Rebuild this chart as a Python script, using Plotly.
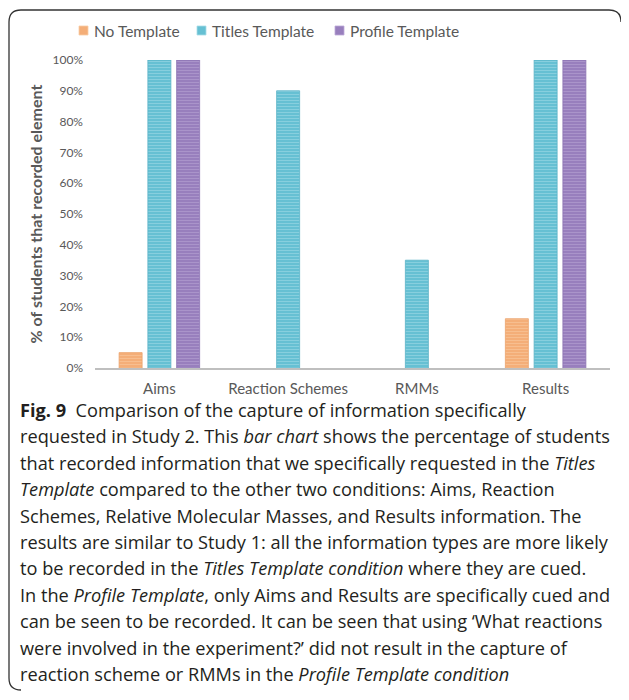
import plotly.graph_objects as go

categories = ["Aims", "Reaction Schemes", "RMMs", "Results"]
no_template = [0.05, None, None, 0.16]
titles_template = [1.00, 0.90, 0.35, 1.00]
profile_template = [1.00, None, None, 1.00]
series_names = ["No Template", "Titles Template", "Profile Template"]
y_ticks = [i / 10 for i in range(11)]

caption_lines = [
    "<b>Fig. 9</b>  Comparison of the capture of information specifically",
    "requested in Study 2. This <i>bar chart</i> shows the percentage of students",
    "that recorded information that we specifically requested in the <i>Titles</i>",
    "<i>Template</i> compared to the other two conditions: Aims, Reaction",
    "Schemes, Relative Molecular Masses, and Results information. The",
    "results are similar to Study 1: all the information types are more likely",
    "to be recorded in the <i>Titles Template condition</i> where they are cued.",
    "In the <i>Profile Template</i>, only Aims and Results are specifically cued and",
    "can be seen to be recorded. It can be seen that using ‘What reactions",
    "were involved in the experiment?’ did not result in the capture of",
    "reaction scheme or RMMs in the <i>Profile Template condition</i>",
]

OFF = 8  # page body margin
W, H = 629 - 2 * OFF, 700 - 2 * OFF
# plot area in screen pixels: x 95..610, y 60..368
L = 95 - OFF
T = 60 - OFF
R = W - (610 - OFF)
B = H - (368 - OFF)
PW = W - L - R
PH = H - T - B


def px(x):
    return (x - OFF - L) / PW


def py(y):
    return (H - B - (y - OFF)) / PH


styles = [
    ("#F4AE78", "#F9CDA6", "#EBA36C"),
    ("#66C0D3", "#A8DDE9", "#5AB3C6"),
    ("#987FBD", "#BCAAD8", "#8C74B2"),
]
CHART_FONT = "Lato"

fig = go.Figure()
for name, vals, (bg, fg, edge) in zip(series_names, [no_template, titles_template, profile_template], styles):
    fig.add_trace(go.Bar(
        name=name, x=categories, y=vals, showlegend=False,
        marker=dict(
            color=bg,
            line=dict(color=edge, width=0.8),
            pattern=dict(shape="-", fgcolor=fg, bgcolor=bg, size=3, solidity=0.35),
        ),
    ))

fig.update_layout(
    width=W, height=H,
    margin=dict(l=L, r=R, t=T, b=B, autoexpand=False),
    paper_bgcolor="white", plot_bgcolor="white",
    barmode="group", bargap=0.33, bargroupgap=0.2,
    font=dict(family=CHART_FONT, color="#595959"),
)
fig.update_yaxes(
    range=[0, 1.0], tickvals=y_ticks, tickformat=".0%",
    showgrid=False, zeroline=False, showline=False,
    tickfont=dict(size=12, color="#595959"), ticklabelstandoff=11,
    title=dict(text="<b>% of students that recorded element</b>",
               font=dict(size=16, color="#595959"), standoff=5),
    automargin=False,
)
fig.update_xaxes(
    showline=True, linecolor="#BFBFBF", linewidth=1.5,
    tickfont=dict(size=15, color="#595959"), ticklabelstandoff=6,
    automargin=False,
)

# legend (manual, positioned like the original)
legend_x = [79, 197, 335]
for (bg, fg, edge), name, lx in zip(styles, series_names, legend_x):
    fig.add_shape(type="rect", xref="paper", yref="paper",
                  x0=px(lx), x1=px(lx + 9), y0=py(26), y1=py(35),
                  fillcolor=bg, line=dict(color=fg, width=0.8))
    fig.add_annotation(text=name, xref="paper", yref="paper",
                       x=px(lx + 13), y=py(31), xanchor="left", yanchor="middle",
                       showarrow=False, font=dict(family=CHART_FONT, size=15.5, color="#595959"))

# rounded border: visible top-left corner, top edge curving down at the right, left edge
x0, y0, x1, y1, r = 9, 10, 621, 690, 12
path = (
    f"M {px(x0 + r)},{py(y0)} L {px(x1 - r)},{py(y0)} "
    f"Q {px(x1)},{py(y0)} {px(x1)},{py(y0 + r)} "
    f"M {px(x0)},{py(y1 - r)} Q {px(x0)},{py(y1)} {px(x0 + r)},{py(y1)} "
    f"M {px(x0)},{py(y1 - r)} L {px(x0)},{py(y0 + r)} Q {px(x0)},{py(y0)} {px(x0 + r)},{py(y0)}"
)
fig.add_shape(type="path", path=path, xref="paper", yref="paper",
              line=dict(color="#333333", width=1.3), fillcolor="rgba(0,0,0,0)")

line_y0, line_dy = 410, 26.4
for i, txt in enumerate(caption_lines):
    fig.add_annotation(
        text=txt, xref="paper", yref="paper",
        x=px(18), y=py(line_y0 + i * line_dy),
        xanchor="left", yanchor="middle", showarrow=False,
        font=dict(family="Open Sans", size=18.2, color="#231F20"),
    )

fig.write_html("out.html")
